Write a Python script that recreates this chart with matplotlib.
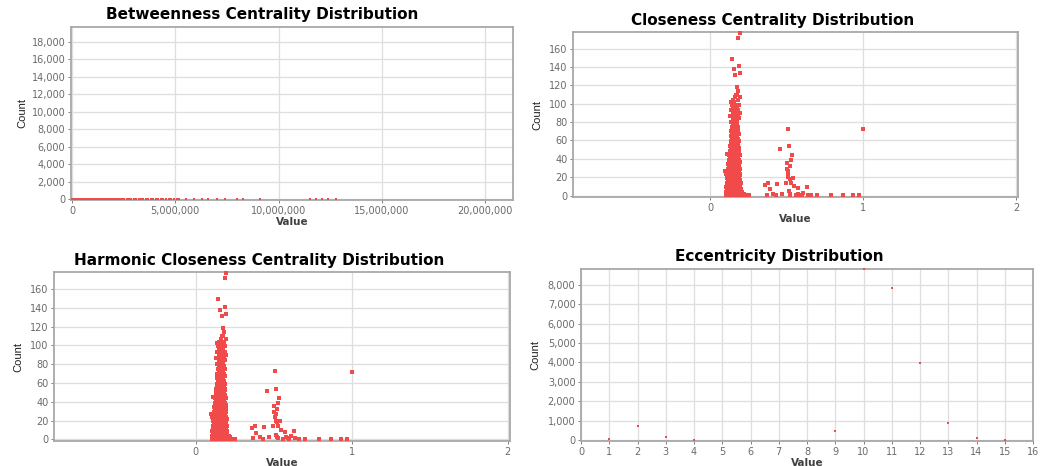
import matplotlib
matplotlib.use("Agg")
import matplotlib.pyplot as plt
from matplotlib.ticker import FuncFormatter, MultipleLocator
import numpy as np

W, H = 1047, 466
RED = "#f04a4a"
GRID = "#dedede"
SPINE = "#a8a8a8"
TICK = "#6a6a6a"

# betweenness: value in millions, count
betw_x = [0.0, 0.05, 0.1, 0.15, 0.2, 0.25, 0.3, 0.36, 0.42, 0.48, 0.55, 0.62, 0.7, 0.78,
          0.86, 0.94, 1.02, 1.1, 1.18, 1.27, 1.36, 1.45, 1.54, 1.63, 1.72, 1.82, 1.92,
          2.02, 2.12, 2.22, 2.32, 2.43, 2.54, 2.65, 2.76, 2.87, 2.98, 3.1, 3.22, 3.34,
          3.46, 3.58, 3.7, 3.82, 3.94, 4.06, 4.18, 4.3, 4.42, 4.55, 4.68, 4.8, 4.93, 5.06,
          5.18, 5.5, 5.9, 6.3, 6.6, 7.0, 7.4, 8.0, 8.3, 9.1, 11.5, 11.8, 12.1, 12.4, 12.8]
betw_y = [60, 52, 45, 40, 36, 32, 28, 25, 22, 20, 18, 16, 14, 13,
          12, 11, 10, 9, 9, 8, 8, 7, 7, 6, 6, 6, 5,
          5, 5, 5, 4, 4, 4, 4, 3, 3, 3, 3, 3, 3,
          2, 2, 2, 2, 2, 2, 2, 2, 1, 1, 1, 1, 1, 1,
          1, 1, 1, 1, 1, 1, 1, 1, 1, 1, 1, 1, 1, 1, 1]

# closeness: each row is one count level with the values that reach it
close_rows = {
    0.5: [0.102, 0.118, 0.131, 0.146, 0.158, 0.171, 0.186, 0.199, 0.212, 0.226, 0.241, 0.255],
    2: [0.108, 0.124, 0.139, 0.152, 0.166, 0.179, 0.193, 0.207, 0.221],
    4: [0.104, 0.115, 0.128, 0.143, 0.157, 0.169, 0.184, 0.197, 0.211],
    7: [0.112, 0.126, 0.137, 0.151, 0.163, 0.176, 0.189, 0.203],
    9: [0.106, 0.119, 0.133, 0.147, 0.161, 0.174, 0.186, 0.198],
    12: [0.114, 0.128, 0.141, 0.155, 0.168, 0.181, 0.194],
    14: [0.109, 0.121, 0.135, 0.149, 0.162, 0.176, 0.19, 0.202],
    17: [0.117, 0.13, 0.144, 0.157, 0.171, 0.184, 0.196],
    19: [0.112, 0.125, 0.139, 0.152, 0.166, 0.179, 0.192],
    22: [0.119, 0.133, 0.147, 0.16, 0.173, 0.187, 0.199],
    24: [0.106, 0.127, 0.141, 0.155, 0.168, 0.182, 0.194],
    27: [0.101, 0.122, 0.136, 0.149, 0.162, 0.176, 0.189],
    29: [0.116, 0.131, 0.144, 0.158, 0.171, 0.185, 0.197],
    32: [0.124, 0.138, 0.152, 0.165, 0.179, 0.192],
    34: [0.119, 0.133, 0.146, 0.16, 0.173, 0.187],
    37: [0.127, 0.141, 0.155, 0.168, 0.182, 0.195],
    39: [0.122, 0.136, 0.149, 0.163, 0.177, 0.19],
    42: [0.13, 0.144, 0.157, 0.171, 0.184],
    44: [0.125, 0.139, 0.152, 0.166, 0.18, 0.193],
    45: [0.108],
    47: [0.133, 0.147, 0.16, 0.174, 0.188],
    49: [0.128, 0.142, 0.155, 0.169, 0.183],
    52: [0.136, 0.15, 0.163, 0.177, 0.19],
    54: [0.131, 0.145, 0.158, 0.172, 0.186],
    57: [0.139, 0.153, 0.166, 0.18],
    59: [0.134, 0.148, 0.161, 0.175, 0.188],
    62: [0.142, 0.156, 0.17, 0.183],
    65: [0.137, 0.151, 0.164, 0.178],
    67: [0.145, 0.159, 0.173, 0.187],
    70: [0.14, 0.154, 0.168, 0.181],
    72: [0.148, 0.162, 0.176],
    75: [0.143, 0.157, 0.171, 0.185],
    78: [0.151, 0.165, 0.179],
    80: [0.138, 0.16, 0.174],
    84: [0.149, 0.168, 0.19],
    87: [0.133, 0.158, 0.182],
    90: [0.147, 0.171, 0.196],
    93: [0.139, 0.163, 0.185],
    96: [0.152, 0.176],
    99: [0.144, 0.168, 0.19],
    102: [0.137, 0.156],
    104: [0.148, 0.181],
    107: [0.163, 0.194],
    110: [0.17, 0.178],
    114: [0.183],
    118: [0.176],
    131: [0.166],
    133: [0.196],
    138: [0.155],
    141: [0.19],
    149: [0.146],
    172: [0.185],
    177: [0.196],
}
close_tail_x = [0.36, 0.38, 0.37, 0.39, 0.41, 0.44, 0.43, 0.46, 0.47, 0.493, 0.505, 0.51,
                0.516, 0.52, 0.505, 0.512, 0.508, 0.512, 0.52, 0.53, 0.537, 0.53, 0.54,
                0.55, 0.515, 0.52, 0.525, 0.56, 0.572, 0.577, 0.59, 0.6, 0.63, 0.61,
                0.64, 0.66, 0.7, 0.79, 0.87, 0.93, 0.97, 1.0]
close_tail_y = [12, 14, 1, 7, 2, 13, 0.5, 51, 2, 14, 35, 73,
                54, 32, 29, 27, 24, 20, 18, 39, 44, 14, 19,
                10, 5, 2, 1, 0.5, 8, 2, 1, 0.5, 9, 3,
                1, 0.5, 0.5, 0.5, 0.5, 0.5, 0.5, 72]

close_x = [x for y, xs in close_rows.items() for x in xs] + close_tail_x
close_y = [y for y, xs in close_rows.items() for x in xs] + close_tail_y

# harmonic closeness gives the same distribution here
harm_x = list(close_x)
harm_y = list(close_y)

ecc_x = [1, 2, 3, 4, 9, 10, 11, 12, 13, 14, 15]
ecc_y = [40, 740, 150, 10, 450, 8800, 7820, 3950, 890, 120, 15]


def rect(l, t, r, b):
    return [l / W, 1 - b / H, (r - l) / W, (b - t) / H]


def style(ax):
    for s in ax.spines.values():
        s.set_color(SPINE)
        s.set_linewidth(1.3)
    ax.grid(True, color=GRID, linewidth=0.9)
    ax.set_axisbelow(True)
    ax.tick_params(colors=TICK, labelsize=7, length=2, width=0.6, pad=2)
    ax.set_xlabel("Value", fontsize=7.5, fontweight="bold", color="#404040", labelpad=1)
    ax.set_ylabel("Count", fontsize=8, color="#202020", labelpad=5,
                  family=["Liberation Sans", "DejaVu Sans"])


def dots(ax, x, y, size):
    ax.scatter(x, y, s=size, marker="s", color=RED, linewidths=0, clip_on=False, zorder=3)


comma = FuncFormatter(lambda v, p: f"{v:,.0f}")

fig = plt.figure(figsize=(W / 100, H / 100), dpi=100)
fig.patch.set_facecolor("white")

# betweenness
ax1 = fig.add_axes(rect(71, 27, 513, 200))
dots(ax1, np.array(betw_x) * 1e6, betw_y, 3)
ax1.set_xlim(-0.05e6, 21.35e6)
ax1.set_ylim(-60, 19700)
ax1.xaxis.set_major_locator(MultipleLocator(5e6))
ax1.yaxis.set_major_locator(MultipleLocator(2000))
ax1.xaxis.set_major_formatter(comma)
ax1.yaxis.set_major_formatter(comma)
style(ax1)
ax1.yaxis.labelpad = 3
fig.text(262 / W, 1 - 15 / H, "Betweenness Centrality Distribution", ha="center",
         va="center", fontsize=11, fontweight="bold")

# closeness
ax2 = fig.add_axes(rect(573, 32, 1018, 197))
dots(ax2, close_x, close_y, 5)
ax2.set_xlim(-0.894, 2.01)
ax2.set_ylim(-1.5, 178)
ax2.xaxis.set_major_locator(MultipleLocator(1))
ax2.yaxis.set_major_locator(MultipleLocator(20))
style(ax2)
fig.text(773 / W, 1 - 20 / H, "Closeness Centrality Distribution", ha="center",
         va="center", fontsize=11, fontweight="bold")

# harmonic closeness
ax3 = fig.add_axes(rect(54, 272, 510, 441))
dots(ax3, harm_x, harm_y, 5)
ax3.set_xlim(-0.908, 2.015)
ax3.set_ylim(-1.8, 178)
ax3.xaxis.set_major_locator(MultipleLocator(1))
ax3.yaxis.set_major_locator(MultipleLocator(20))
style(ax3)
fig.text(259 / W, 1 - 261 / H, "Harmonic Closeness Centrality Distribution", ha="center",
         va="center", fontsize=11, fontweight="bold")

# eccentricity
ax4 = fig.add_axes(rect(581, 269, 1033, 441))
dots(ax4, ecc_x, ecc_y, 4)
ax4.set_xlim(0, 16)
ax4.set_ylim(-50, 8815)
ax4.xaxis.set_major_locator(MultipleLocator(1))
ax4.yaxis.set_major_locator(MultipleLocator(1000))
ax4.yaxis.set_major_formatter(comma)
style(ax4)
fig.text(779 / W, 1 - 257 / H, "Eccentricity Distribution", ha="center",
         va="center", fontsize=11, fontweight="bold")

fig.savefig("out.png", dpi=100)
